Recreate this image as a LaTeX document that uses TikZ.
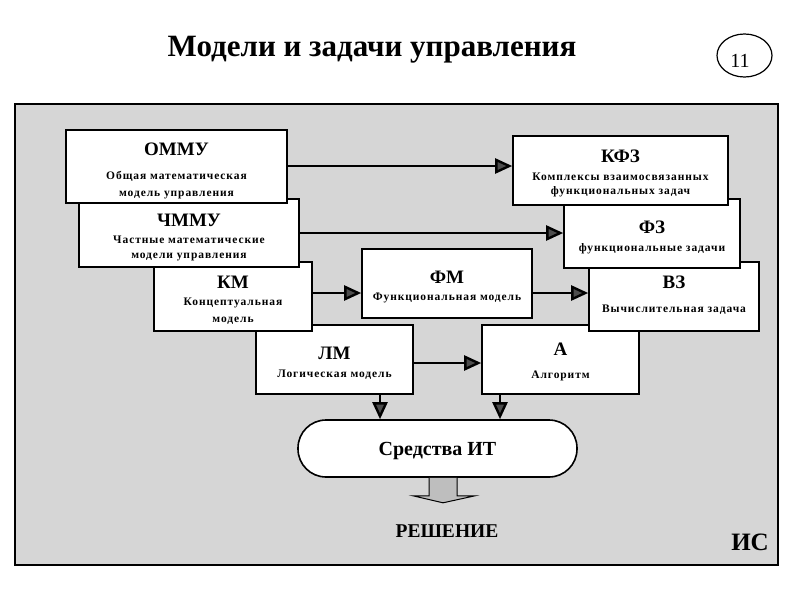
\documentclass[tikz,border=0pt]{standalone}
\usepackage{fontspec}
\setmainfont{Liberation Serif}
\usetikzlibrary{arrows.meta,shapes.geometric}
\definecolor{panel}{RGB}{214,214,214}
\definecolor{bigarrow}{RGB}{190,190,190}
\tikzset{
  box/.style={draw=black, fill=white, line width=1.6pt, rectangle, inner sep=0pt},
  head/.style={anchor=base, font=\fontsize{19}{22}\selectfont\bfseries, inner sep=0pt},
  sub/.style={anchor=base, font=\fontsize{11.5}{13}\selectfont\bfseries\addfontfeature{LetterSpace=8}, inner sep=0pt},
  conn/.style={line width=2.8pt, -{Triangle[length=17pt,width=15pt,line width=2.4pt,fill=black!70]}},
}
\begin{document}
\begin{tikzpicture}[x=1pt,y=-1pt]
\useasboundingbox (0,0) rectangle (800,600);
% title and page number
\node[anchor=base, font=\fontsize{31}{34}\selectfont\bfseries, inner sep=0pt] (title) at (372,56) {Модели и задачи управления};
\node[draw, ellipse, line width=1.2pt, minimum width=55pt, minimum height=43pt, inner sep=0pt] (num) at (744.5,55.5) {};
\node[anchor=base, font=\fontsize{20}{22}\selectfont, inner sep=0pt] (numt) at (740,67) {11};
% panel
\node[draw=black, fill=panel, line width=2.6pt, minimum width=763pt, minimum height=461pt, inner sep=0pt] (panel) at (396.5,334.5) {};
% right column boxes (lower first)
\node[box, minimum width=157pt, minimum height=69pt] (a)   at (560.5,359.5) {};
\node[box, minimum width=170pt, minimum height=69pt] (vz)  at (674,296.5) {};
\node[box, minimum width=176pt, minimum height=69pt] (fz)  at (652,233.5) {};
\node[box, minimum width=215pt, minimum height=69pt] (kfz) at (620.5,170.5) {};
% left column boxes (lower first)
\node[box, minimum width=157pt, minimum height=69pt] (lm)   at (334.5,359.5) {};
\node[box, minimum width=158pt, minimum height=69pt] (km)   at (233,296.5) {};
\node[box, minimum width=220pt, minimum height=68pt] (chmmu) at (189,233) {};
\node[box, minimum width=221pt, minimum height=73pt] (ommu) at (176.5,166.5) {};
\node[box, minimum width=170pt, minimum height=69pt] (fm)   at (447,283.5) {};
% texts
\node[head] (ommu-h) at (176.5,155) {ОММУ};
\node[sub]  (ommu-1) at (176.5,179) {Общая  математическая};
\node[sub]  (ommu-2) at (176.5,196) {модель управления};
\node[head] (chmmu-h) at (189,226) {ЧММУ};
\node[sub]  (chmmu-1) at (189,243) {Частные математические};
\node[sub]  (chmmu-2) at (189,258) {модели управления};
\node[head] (km-h) at (233,288) {КМ};
\node[sub]  (km-1) at (233,305) {Концептуальная};
\node[sub]  (km-2) at (233,322) {модель};
\node[head] (lm-h) at (334.5,359) {ЛМ};
\node[sub]  (lm-1) at (334.5,377) {Логическая модель};
\node[head] (fm-h) at (447,283) {ФМ};
\node[sub]  (fm-1) at (447,300) {Функциональная модель};
\node[head] (kfz-h) at (620.5,162) {КФЗ};
\node[sub]  (kfz-1) at (620.5,180) {Комплексы взаимосвязанных};
\node[sub]  (kfz-2) at (620.5,194) {функциональных задач};
\node[head] (fz-h) at (652,233) {ФЗ};
\node[sub]  (fz-1) at (652,251) {функциональные задачи};
\node[head] (vz-h) at (674,288) {ВЗ};
\node[sub]  (vz-1) at (674,312) {Вычислительная  задача};
\node[head] (a-h) at (560.5,355) {А};
\node[sub]  (a-1) at (560.5,378) {Алгоритм};
% oval
\node[draw=black, fill=white, line width=1.6pt, rounded corners=28pt, minimum width=279pt, minimum height=57pt, inner sep=0pt] (oval) at (437.5,448.5) {};
\node[anchor=base, font=\fontsize{20}{23}\selectfont\bfseries, inner sep=0pt] (oval-t) at (437.5,455) {Средства ИТ};
% connectors
\coordinate (c1) at ([yshift=0.5pt]ommu.east);
\draw[conn] (c1) -- (c1 -| kfz.west);
\draw[conn] (chmmu.east) -- (chmmu.east -| fz.west);
\coordinate (c3) at ([yshift=3.5pt]km.east);
\draw[conn] (c3) -- (c3 -| fm.west);
\coordinate (c4) at ([yshift=-9.5pt]fm.east);
\draw[conn] (c4) -- (c4 -| vz.west);
\coordinate (c5) at ([yshift=-3.5pt]lm.east);
\draw[conn] (c5) -- (c5 -| a.west);
\coordinate (c6) at ([xshift=45.5pt]lm.south);
\draw[conn] (c6) -- (c6 |- oval.north);
\coordinate (c7) at ([xshift=-60.5pt]a.south);
\draw[conn] (c7) -- (c7 |- oval.north);
% big down arrow
\coordinate (o) at ([xshift=5.5pt]oval.south);
\draw[fill=bigarrow, line width=1pt, line join=miter]
  ([xshift=-14pt]o) -- ([xshift=-14pt,yshift=-18pt]o) -- ([xshift=-30pt,yshift=-18pt]o)
  -- ([yshift=-25pt]o) -- ([xshift=32pt,yshift=-18pt]o) -- ([xshift=14pt,yshift=-18pt]o)
  -- ([xshift=14pt]o);
\node[anchor=base, font=\fontsize{19.5}{22}\selectfont\bfseries, inner sep=0pt] (res) at (447,537) {РЕШЕНИЕ};
\node[anchor=base, font=\fontsize{25}{28}\selectfont\bfseries, inner sep=0pt] (is) at (750,550) {ИС};
\end{tikzpicture}
\end{document}
